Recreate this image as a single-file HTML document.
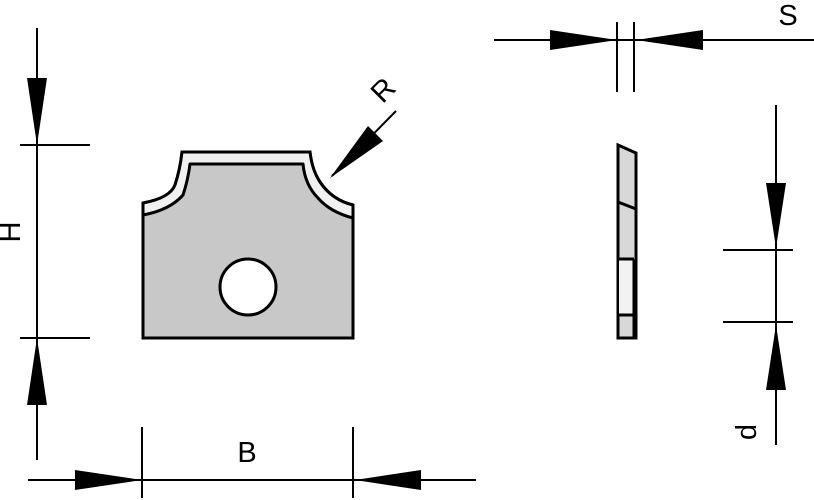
<!DOCTYPE html>
<html><head><meta charset="utf-8"><style>html,body{margin:0;padding:0;background:#fff}svg{display:block}</style></head>
<body>
<svg width="814" height="500" viewBox="0 0 814 500" xmlns="http://www.w3.org/2000/svg" font-family="Liberation Sans, sans-serif">
<g stroke="#000" stroke-width="2" fill="none">
<line x1="37" y1="28" x2="37" y2="460"/>
<line x1="20" y1="145" x2="90" y2="145"/>
<line x1="20" y1="338" x2="90" y2="338"/>
<line x1="28" y1="480" x2="476" y2="480"/>
<line x1="142" y1="427" x2="142" y2="498"/>
<line x1="353" y1="427" x2="353" y2="498"/>
<line x1="494" y1="40" x2="814" y2="40"/>
<line x1="617" y1="22" x2="617" y2="92"/>
<line x1="634" y1="22" x2="634" y2="92"/>
<line x1="776" y1="105" x2="776" y2="445"/>
<line x1="723" y1="250" x2="793" y2="250"/>
<line x1="723" y1="322" x2="793" y2="322"/>
<line x1="396" y1="111" x2="332" y2="176"/>
</g>
<g fill="#000">
<polygon points="27,78 47,78 37,145"/>
<polygon points="27,405 47,405 37,338"/>
<polygon points="75,470 75,490 142,480"/>
<polygon points="421,470 421,490 355,480"/>
<polygon points="550,30 550,50 617,40"/>
<polygon points="703,30 703,50 636,40"/>
<polygon points="766,183 786,183 776,248"/>
<polygon points="766,390 786,390 776,325"/>
<polygon points="368,126 383,141 330,178"/>
</g>
<path d="M143,338 L143,203 Q170,198 175,185 Q180,170 182,152 L310,152 Q312,170 320,182 Q332,200 353,205 L353,338 Z" fill="#c8c8c8" stroke="#000" stroke-width="3"/>
<path d="M143,203 Q170,198 175,185 Q180,170 182,152 L310,152 Q312,170 320,182 Q332,200 353,205 L353,218 Q330,212 318,198 Q305,185 303,164 L190,164 Q188,180 183,195 Q170,210 143,215 Z" fill="#f0f0f0" stroke="#000" stroke-width="3" stroke-linejoin="round"/>
<circle cx="248" cy="287" r="28" fill="#fff" stroke="#000" stroke-width="3"/>
<polygon points="618,145 636,153 636,338 618,338" fill="#d8d8d8" stroke="#000" stroke-width="3"/>
<rect x="619" y="259" width="14" height="55" fill="#f2f2f2"/>
<g stroke="#000" stroke-width="3">
<line x1="618" y1="202" x2="636" y2="209"/>
<line x1="618" y1="259" x2="634" y2="259"/>
<line x1="618" y1="315" x2="634" y2="315"/>
<line x1="634" y1="259" x2="634" y2="338"/>
</g>
<g font-size="29" fill="#000">
<text x="247" y="462" text-anchor="middle">B</text>
<text x="788" y="25" text-anchor="middle">S</text>
<text transform="translate(20,232) rotate(-90)" text-anchor="middle">H</text>
<text transform="translate(756,432) rotate(-90)" text-anchor="middle">d</text>
<text transform="translate(390,97) rotate(-45)" text-anchor="middle">R</text>
</g>
</svg>
</body></html>
